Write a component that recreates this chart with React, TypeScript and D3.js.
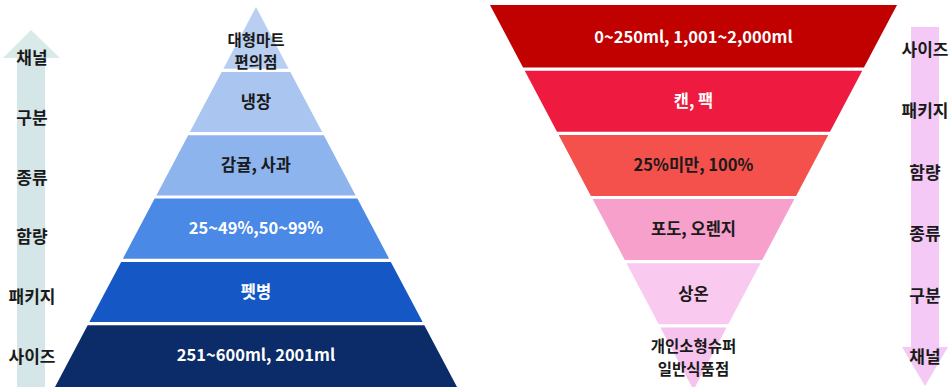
import React from "react";
import * as d3 from "d3";

const leftLayers = ["대형마트\n편의점", "냉장", "감귤, 사과", "25~49%,50~99%", "펫병", "251~600ml, 2001ml"];
const leftColors = ["#b8cff2", "#a9c5f0", "#8db4ed", "#4a89e6", "#1657c6", "#0b2c68"];
const leftTextColors = ["#1a1a1a", "#1a1a1a", "#1a1a1a", "#ffffff", "#ffffff", "#ffffff"];

const rightLayers = ["0~250ml, 1,001~2,000ml", "캔, 팩", "25%미만, 100%", "포도, 오렌지", "상온", "개인소형슈퍼\n일반식품점"];
const rightColors = ["#c10000", "#ee1a3f", "#f4514d", "#f7a0cb", "#f9c9ef", "#f6c2ee"];
const rightTextColors = ["#ffffff", "#ffffff", "#1a1a1a", "#1a1a1a", "#1a1a1a", "#1a1a1a"];

const leftAxisLabels = ["채널", "구분", "종류", "함량", "패키지", "사이즈"];
const rightAxisLabels = ["사이즈", "패키지", "함량", "종류", "구분", "채널"];

const FONT = "'Noto Sans CJK KR', 'Noto Sans', sans-serif";

export default function App() {
  const W = 950, H = 387;
  const gap = 1.6;

  // left pyramid
  const lc = 256;
  const ly = d3.scaleLinear().domain([0, 6]).range([7, 387]);
  const lHalf = d3.scaleLinear().domain([7, 387]).range([0, 201]);

  // right inverted pyramid
  const rc = 693.5;
  const ry = d3.scaleLinear().domain([0, 6]).range([5, 390]);
  const rHalf = d3.scaleLinear().domain([5, 390]).range([203.5, 0]);

  const leftAxisY = d3.scalePoint<string>().domain(leftAxisLabels).range([58, 357]);
  const rightAxisY = d3.scalePoint<string>().domain(rightAxisLabels).range([50, 357]);

  const trap = (c: number, half: (y: number) => number, y0: number, y1: number) => {
    const p: [number, number][] = [
      [c - half(y0), y0], [c + half(y0), y0], [c + half(y1), y1], [c - half(y1), y1],
    ];
    return d3.line()(p) + "Z";
  };

  const renderText = (txt: string, x: number, y: number, color: string, key: string, size = 16.5) => {
    const lines = txt.split("\n");
    const multi = lines.length > 1;
    const fs = multi ? 15.5 : size;
    const lh = 22.6;
    const start = y - ((lines.length - 1) * lh) / 2;
    return (
      <g key={key}>
        {lines.map((l, i) => (
          <text key={i} x={x} y={start + i * lh} dy="0.35em" textAnchor="middle" fontFamily={FONT} fontWeight="bold" fontSize={fs} fill={color}>{l}</text>
        ))}
      </g>
    );
  };

  return (
    <svg width={W} height={H} style={{ position: "absolute", left: 0, top: 0 }}>
      <rect width={W} height={H} fill="#ffffff" />
      {/* left arrow */}
      <rect x={17} y={57} width={28} height={335} fill="#d4e6e7" />
      <path d={d3.line()([[3, 58], [31, 30], [60, 58]]) + "Z"} fill="#d8ebe8" />
      {/* right arrow */}
      <rect x={911} y={27} width={28} height={321} fill="#f5c9f6" />
      <path d={d3.line()([[902, 347], [925, 386], [948, 347]]) + "Z"} fill="#f5c9f6" />

      {leftLayers.map((t, i) => {
        const y0 = i === 0 ? ly(0) : ly(i) + gap;
        const y1 = i === 5 ? ly(6) + 5 : ly(i + 1) - gap;
        return <path key={"lp" + i} d={trap(lc, lHalf, y0, y1)} fill={leftColors[i]} />;
      })}
      {rightLayers.map((t, i) => {
        const y0 = i === 0 ? ry(0) : ry(i) + gap;
        const y1 = i === 5 ? ry(6) : ry(i + 1) - gap;
        return <path key={"rp" + i} d={trap(rc, rHalf, y0, y1)} fill={rightColors[i]} />;
      })}

      {leftLayers.map((t, i) => {
        const cy = i === 0 ? 51.5 : (ly(i) + ly(i + 1)) / 2;
        return renderText(t, lc, cy, leftTextColors[i], "lt" + i);
      })}
      {rightLayers.map((t, i) => {
        const cy = i === 5 ? 358 : (ry(i) + ry(i + 1)) / 2;
        return renderText(t, rc, cy, rightTextColors[i], "rt" + i);
      })}

      {leftAxisLabels.map((l) => renderText(l, 32, leftAxisY(l)!, "#1a1a1a", "la" + l, 17))}
      {rightAxisLabels.map((l) => renderText(l, 925, rightAxisY(l)!, "#1a1a1a", "ra" + l, 17))}
    </svg>
  );
}
